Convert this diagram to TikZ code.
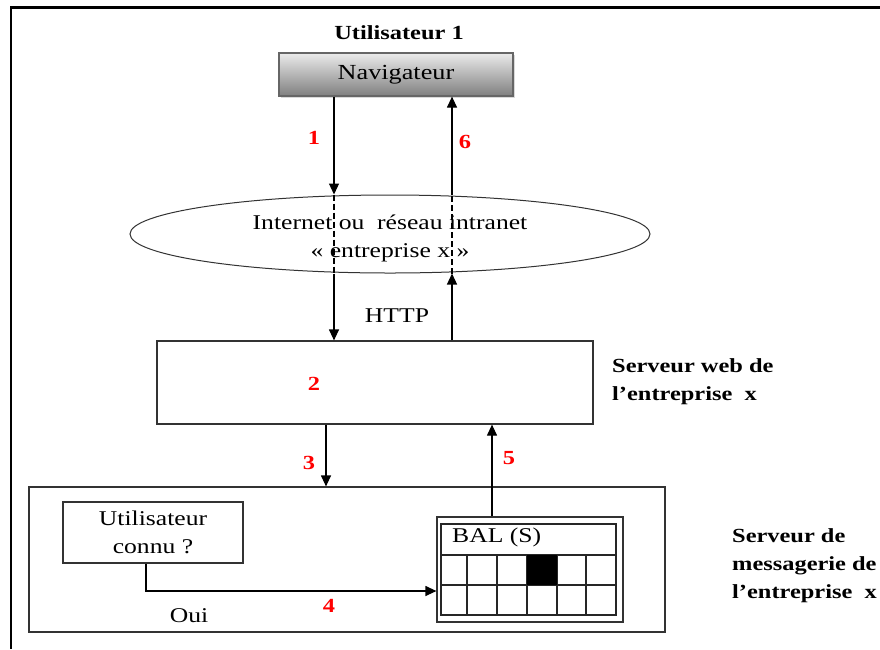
\documentclass[tikz,border=0pt]{standalone}
\usepackage{fontspec}
\setmainfont{Liberation Serif}[FakeStretch=1.22]
\usetikzlibrary{arrows.meta,shadows,shapes.geometric}
\begin{document}
\begin{tikzpicture}[x=1pt,y=-1pt,
  txt/.style={font=\fontsize{21}{27.5}\selectfont, inner sep=0pt, align=center},
  btxt/.style={font=\fontsize{20}{28}\selectfont\bfseries, inner sep=0pt, align=left},
  num/.style={font=\fontsize{20}{20}\selectfont\bfseries, text=red, inner sep=0pt},
  boxst/.style={draw=black!80, line width=1.2pt, inner sep=0pt},
  arr/.style={line width=1.2pt, -{Triangle[length=11pt,width=10pt]}},
  dsh/.style={line width=1.2pt, dash pattern=on 6pt off 3pt},
]
\useasboundingbox (0,0) rectangle (880,649);
% frame
\draw[line width=3pt] (11,7.5) -- (880,7.5);
\draw[line width=2.5pt] (11,6) -- (11,649);

% title and browser
\node[txt, font=\fontsize{20}{24}\selectfont\bfseries] (title) at (399,33) {Utilisateur 1};
\node[boxst, draw=black!60, minimum width=234pt, minimum height=43pt,
      top color=black!8, bottom color=black!50,
      drop shadow={shadow xshift=1.5pt, shadow yshift=-2pt, opacity=0.3},
      font=\fontsize{21.5}{25}\selectfont] (nav) at (396,74.5) {Navigateur};

% network ellipse
\node[ellipse, draw=black!80, line width=1pt, minimum width=520pt, minimum height=78pt, inner sep=0pt] (ell) at (390,234) {};
\node[txt] (elltxt) at (390,238.5) {Internet ou\ \ réseau intranet\\« entreprise x »};

% web server
\node[boxst, minimum width=436pt, minimum height=83pt] (web) at (375,382.5) {};
\node[num] (n2) at (314,384) {2};
\node[txt] (http) at (397,316) {HTTP};
\node[btxt, anchor=west] (webl) at (612,382) {Serveur web de\\l’entreprise\ \ x};

% mail server
\node[boxst, minimum width=636pt, minimum height=145pt] (mail) at (347,559.5) {};
\node[boxst, txt, minimum width=180pt, minimum height=61pt] (usr) at (153,532.5) {Utilisateur\\connu ?};
\node[boxst, minimum width=186pt, minimum height=105pt] (bal) at (530,569.5) {};
\draw[line width=1.2pt, draw=black!85] (441,524) rectangle (616,615);
\draw[line width=1.2pt, draw=black!85] (441,555) -- (616,555) (441,585) -- (616,585);
\foreach \cx in {467,497,527,557,586}
  \draw[line width=1.2pt, draw=black!85] (\cx,555) -- (\cx,615);
\fill[black] (527,555) rectangle (557,585);
\node[txt, anchor=west] (baltxt) at (452,537) {BAL (S)};
\node[txt] (oui) at (189,616) {Oui};
\node[btxt, anchor=west] (maill) at (732,566) {Serveur de\\messagerie de\\l’entreprise\ \ x};

% connector x positions
\coordinate (xa) at (334,0);
\coordinate (xb) at (452,0);
\coordinate (xc) at (326,0);
\coordinate (xd) at (492,0);
\coordinate (c4) at (146,591);

% arrows
\draw[arr] (nav.south -| xa) -- (ell.north -| xa);
\draw[dsh] (ell.north -| xa) -- (ell.south -| xa);
\draw[arr] (ell.south -| xa) -- (web.north -| xa);
\draw[arr] (web.north -| xb) -- (ell.south -| xb);
\draw[dsh] (ell.south -| xb) -- (ell.north -| xb);
\draw[arr] (ell.north -| xb) -- (nav.south -| xb);
\draw[arr] (web.south -| xc) -- (mail.north -| xc);
\draw[arr] (bal.north -| xd) -- (web.south -| xd);
\draw[arr] (usr.south -| c4) -- (c4) -- (bal.west |- c4);

% step numbers
\node[num] (n1) at (314,138) {1};
\node[num] (n6) at (465,142) {6};
\node[num] (n3) at (309,463) {3};
\node[num] (n5) at (509,458) {5};
\node[num] (n4) at (329,606) {4};
\end{tikzpicture}
\end{document}
